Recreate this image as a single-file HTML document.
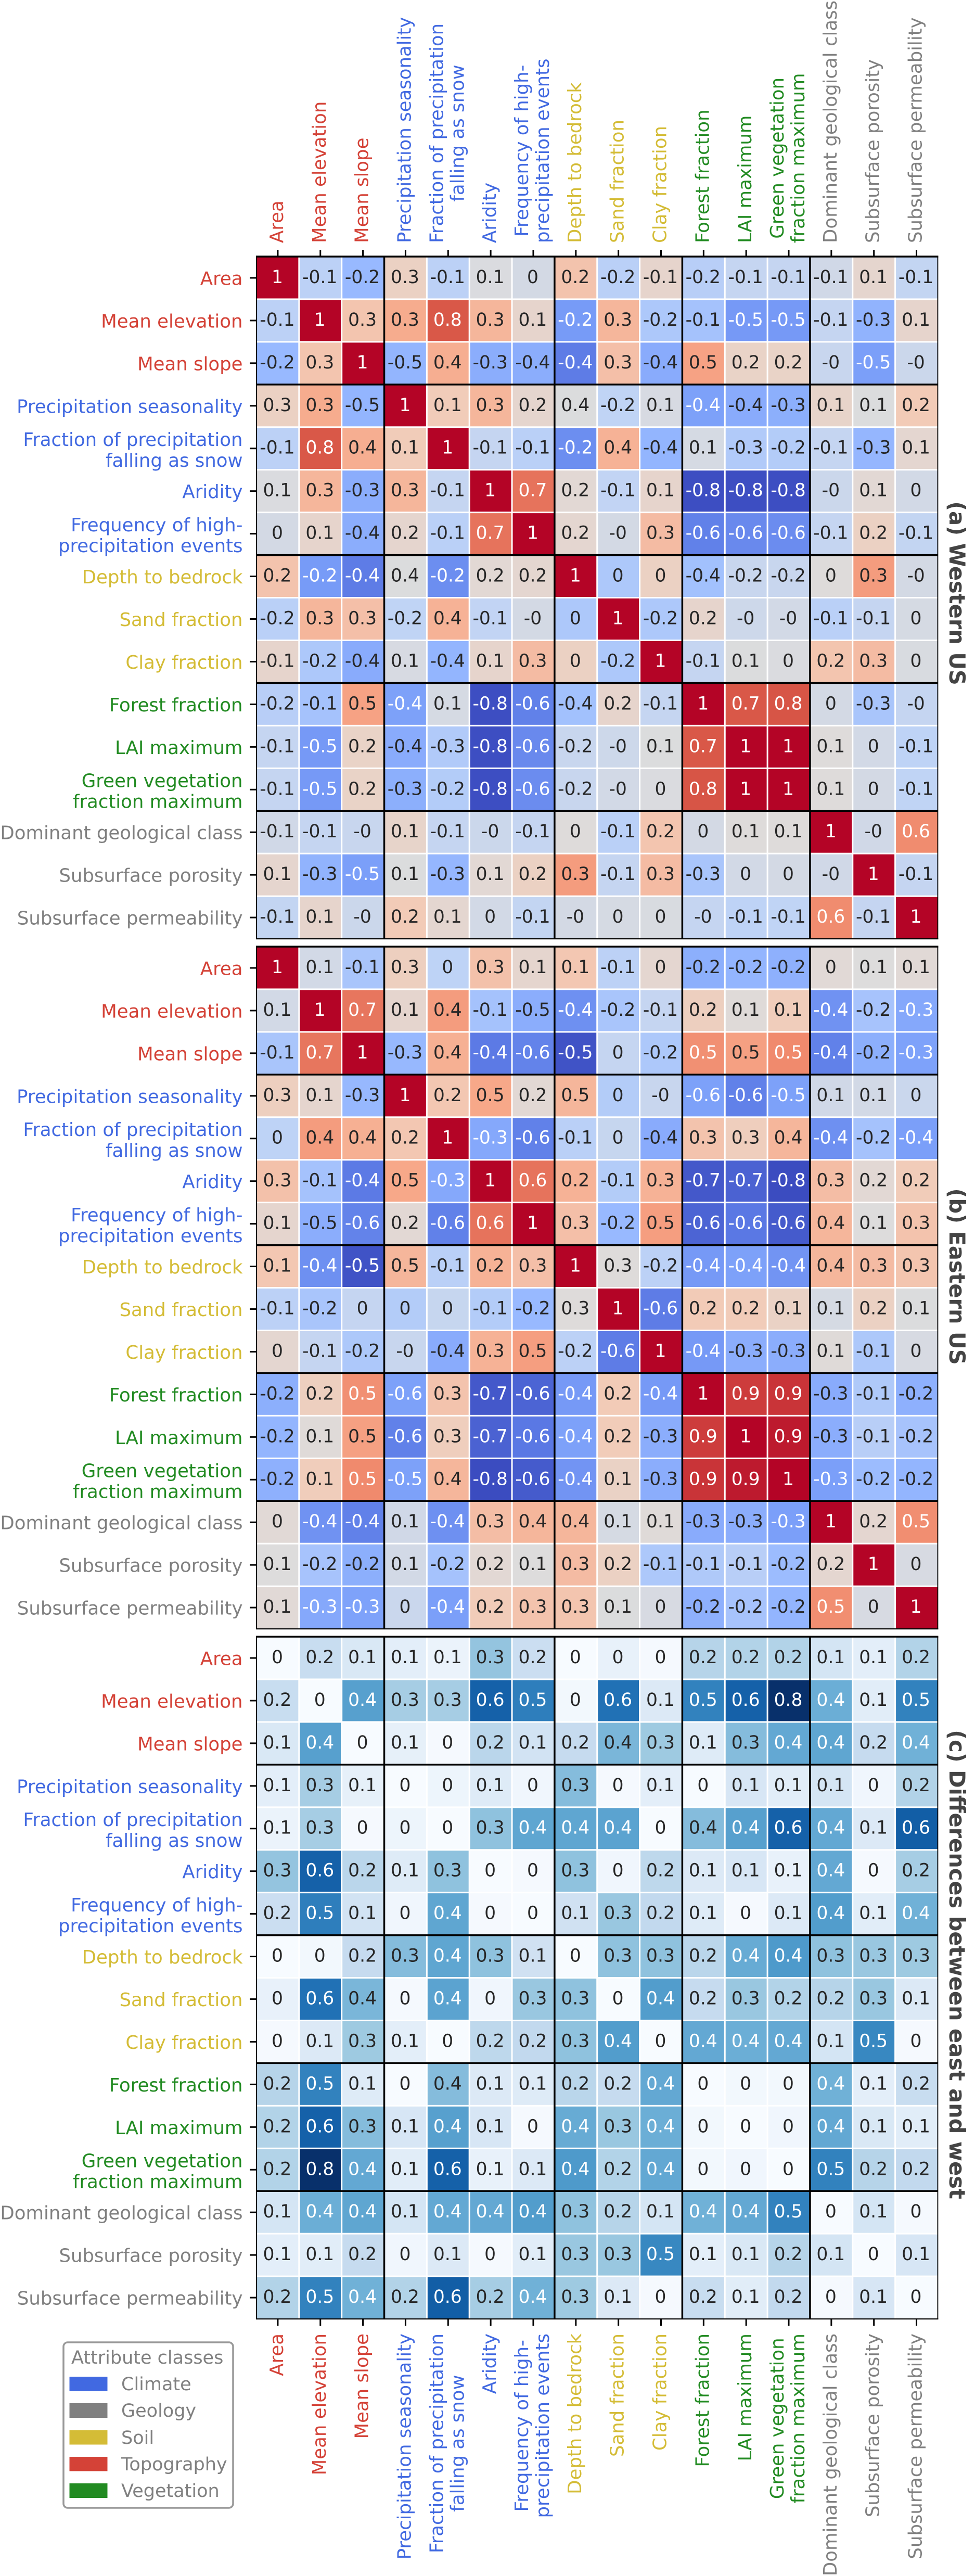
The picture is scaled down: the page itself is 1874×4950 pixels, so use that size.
<!DOCTYPE html>
<html lang="en">
<head>
<meta charset="utf-8">
<title>Attribute correlation heatmaps</title>
<style>
html,body{margin:0;padding:0;background:#fff;}
svg{display:block;font-family:"DejaVu Sans","Liberation Sans",sans-serif;}
</style>
</head>
<body>
<svg id="figure" xmlns="http://www.w3.org/2000/svg" width="1874" height="4950" viewBox="0 0 1874 4950">
  <rect x="0" y="0" width="1874" height="4950" fill="#ffffff"/>
  <g id="panels"></g>
  <g id="axis-top"></g>
  <g id="axis-bottom"></g>
  <text transform="translate(1825,1140) rotate(90)" text-anchor="middle" font-size="41.5" font-weight="bold" fill="#444444">(a) Western US</text>
  <text transform="translate(1825,2453) rotate(90)" text-anchor="middle" font-size="41.5" font-weight="bold" fill="#444444">(b) Eastern US</text>
  <text transform="translate(1825,3775) rotate(90)" text-anchor="middle" font-size="41.5" font-weight="bold" fill="#444444">(c) Differences between east and west</text>
  <g>
    <rect x="122" y="4501" width="326" height="318" rx="8" ry="8" fill="#ffffff" stroke="#999999" stroke-width="3.5"/>
    <text x="137" y="4542" font-size="35" fill="#808080">Attribute classes</text>
    <rect x="133.5" y="4567" width="73" height="27.5" fill="#4169e1"/>
    <text x="233" y="4593" font-size="35" fill="#808080">Climate</text>
    <rect x="133.5" y="4618" width="73" height="28" fill="#808080"/>
    <text x="233" y="4644" font-size="35" fill="#808080">Geology</text>
    <rect x="133.5" y="4670" width="73" height="27.5" fill="#d4bc36"/>
    <text x="233" y="4696" font-size="35" fill="#808080">Soil</text>
    <rect x="133.5" y="4721" width="73" height="27.5" fill="#d44237"/>
    <text x="233" y="4747" font-size="35" fill="#808080">Topography</text>
    <rect x="133.5" y="4772" width="73" height="28" fill="#228b22"/>
    <text x="233" y="4798" font-size="35" fill="#808080">Vegetation</text>
  </g>
</svg>
<script>
const attributeNames = [
  "Area", "Mean elevation", "Mean slope",
  "Precipitation seasonality", "Fraction of precipitation\nfalling as snow", "Aridity", "Frequency of high-\nprecipitation events",
  "Depth to bedrock", "Sand fraction", "Clay fraction",
  "Forest fraction", "LAI maximum", "Green vegetation\nfraction maximum",
  "Dominant geological class", "Subsurface porosity", "Subsurface permeability"
];
const attributeClasses = [
  "topography", "topography", "topography",
  "climate", "climate", "climate", "climate",
  "soil", "soil", "soil",
  "vegetation", "vegetation", "vegetation",
  "geology", "geology", "geology"
];
const classColors = { topography: "#d44237", climate: "#4169e1", soil: "#d4bc36", vegetation: "#228b22", geology: "#808080" };
const groupBreaks = [3, 7, 10, 13];

/* Printed correlation values, western US */
const westernPrinted = [
  [1,-0.1,-0.2,0.3,-0.1,0.1,0,0.2,-0.2,-0.1,-0.2,-0.1,-0.1,-0.1,0.1,-0.1],
  [-0.1,1,0.3,0.3,0.8,0.3,0.1,-0.2,0.3,-0.2,-0.1,-0.5,-0.5,-0.1,-0.3,0.1],
  [-0.2,0.3,1,-0.5,0.4,-0.3,-0.4,-0.4,0.3,-0.4,0.5,0.2,0.2,-0,-0.5,-0],
  [0.3,0.3,-0.5,1,0.1,0.3,0.2,0.4,-0.2,0.1,-0.4,-0.4,-0.3,0.1,0.1,0.2],
  [-0.1,0.8,0.4,0.1,1,-0.1,-0.1,-0.2,0.4,-0.4,0.1,-0.3,-0.2,-0.1,-0.3,0.1],
  [0.1,0.3,-0.3,0.3,-0.1,1,0.7,0.2,-0.1,0.1,-0.8,-0.8,-0.8,-0,0.1,0],
  [0,0.1,-0.4,0.2,-0.1,0.7,1,0.2,-0,0.3,-0.6,-0.6,-0.6,-0.1,0.2,-0.1],
  [0.2,-0.2,-0.4,0.4,-0.2,0.2,0.2,1,0,0,-0.4,-0.2,-0.2,0,0.3,-0],
  [-0.2,0.3,0.3,-0.2,0.4,-0.1,-0,0,1,-0.2,0.2,-0,-0,-0.1,-0.1,0],
  [-0.1,-0.2,-0.4,0.1,-0.4,0.1,0.3,0,-0.2,1,-0.1,0.1,0,0.2,0.3,0],
  [-0.2,-0.1,0.5,-0.4,0.1,-0.8,-0.6,-0.4,0.2,-0.1,1,0.7,0.8,0,-0.3,-0],
  [-0.1,-0.5,0.2,-0.4,-0.3,-0.8,-0.6,-0.2,-0,0.1,0.7,1,1,0.1,0,-0.1],
  [-0.1,-0.5,0.2,-0.3,-0.2,-0.8,-0.6,-0.2,-0,0,0.8,1,1,0.1,0,-0.1],
  [-0.1,-0.1,-0,0.1,-0.1,-0,-0.1,0,-0.1,0.2,0,0.1,0.1,1,-0,0.6],
  [0.1,-0.3,-0.5,0.1,-0.3,0.1,0.2,0.3,-0.1,0.3,-0.3,0,0,-0,1,-0.1],
  [-0.1,0.1,-0,0.2,0.1,0,-0.1,-0,0,0,-0,-0.1,-0.1,0.6,-0.1,1]
];
/* Colour strength of each western US cell */
const westernShade = [
  [1,-.10,-.27,.22,-.10,.08,.04,.32,-.11,.18,-.12,-.05,-.05,.02,.17,-.06],
  [-.10,1,.31,.44,.80,.39,.18,-.46,.39,-.17,-.21,-.47,-.47,-.05,-.31,.18],
  [-.27,.31,1,-.30,.43,-.35,-.35,-.60,.34,-.36,.49,.20,.20,-.03,-.44,-.01],
  [.22,.44,-.30,1,.27,.39,.17,.09,-.08,.06,-.43,-.36,-.34,.19,.09,.28],
  [-.10,.80,.43,.27,1,-.05,-.11,-.52,.41,-.30,.05,-.15,-.14,-.05,-.29,.16],
  [.08,.39,-.35,.39,-.05,1,.70,.14,-.07,.18,-.79,-.79,-.79,-.01,.14,.03],
  [.04,.18,-.35,.17,-.11,.70,1,.16,.04,.36,-.58,-.54,-.53,-.05,.22,-.06],
  [.32,-.46,-.60,.09,-.52,.14,.16,1,-.17,.22,-.22,-.03,-.03,.11,.52,.04],
  [-.11,.39,.34,-.08,.41,-.07,.04,-.17,1,-.17,.18,.00,.03,-.11,-.05,.05],
  [.18,-.17,-.36,.06,-.30,.18,.36,.22,-.17,1,-.05,.09,.08,.31,.36,.07],
  [-.12,-.21,.49,-.43,.05,-.79,-.58,-.22,.18,-.05,1,.80,.81,.04,-.19,-.05],
  [-.05,-.47,.20,-.36,-.15,-.79,-.54,-.03,.00,.09,.80,1,1,.11,.03,-.09],
  [-.05,-.47,.20,-.34,-.14,-.79,-.53,-.03,.03,.08,.81,1,1,.11,.04,-.08],
  [.02,-.05,-.03,.19,-.05,-.01,-.05,.11,-.11,.31,.04,.11,.11,1,.02,.60],
  [.17,-.31,-.44,.09,-.29,.14,.22,.52,-.05,.36,-.19,.03,.04,.02,1,-.05],
  [-.06,.18,-.01,.28,.16,.03,-.06,.04,.05,.07,-.05,-.09,-.08,.60,-.05,1]
];

/* Printed correlation values, eastern US */
const easternPrinted = [
  [1,0.1,-0.1,0.3,0,0.3,0.1,0.1,-0.1,0,-0.2,-0.2,-0.2,0,0.1,0.1],
  [0.1,1,0.7,0.1,0.4,-0.1,-0.5,-0.4,-0.2,-0.1,0.2,0.1,0.1,-0.4,-0.2,-0.3],
  [-0.1,0.7,1,-0.3,0.4,-0.4,-0.6,-0.5,0,-0.2,0.5,0.5,0.5,-0.4,-0.2,-0.3],
  [0.3,0.1,-0.3,1,0.2,0.5,0.2,0.5,0,-0,-0.6,-0.6,-0.5,0.1,0.1,0],
  [0,0.4,0.4,0.2,1,-0.3,-0.6,-0.1,0,-0.4,0.3,0.3,0.4,-0.4,-0.2,-0.4],
  [0.3,-0.1,-0.4,0.5,-0.3,1,0.6,0.2,-0.1,0.3,-0.7,-0.7,-0.8,0.3,0.2,0.2],
  [0.1,-0.5,-0.6,0.2,-0.6,0.6,1,0.3,-0.2,0.5,-0.6,-0.6,-0.6,0.4,0.1,0.3],
  [0.1,-0.4,-0.5,0.5,-0.1,0.2,0.3,1,0.3,-0.2,-0.4,-0.4,-0.4,0.4,0.3,0.3],
  [-0.1,-0.2,0,0,0,-0.1,-0.2,0.3,1,-0.6,0.2,0.2,0.1,0.1,0.2,0.1],
  [0,-0.1,-0.2,-0,-0.4,0.3,0.5,-0.2,-0.6,1,-0.4,-0.3,-0.3,0.1,-0.1,0],
  [-0.2,0.2,0.5,-0.6,0.3,-0.7,-0.6,-0.4,0.2,-0.4,1,0.9,0.9,-0.3,-0.1,-0.2],
  [-0.2,0.1,0.5,-0.6,0.3,-0.7,-0.6,-0.4,0.2,-0.3,0.9,1,0.9,-0.3,-0.1,-0.2],
  [-0.2,0.1,0.5,-0.5,0.4,-0.8,-0.6,-0.4,0.1,-0.3,0.9,0.9,1,-0.3,-0.2,-0.2],
  [0,-0.4,-0.4,0.1,-0.4,0.3,0.4,0.4,0.1,0.1,-0.3,-0.3,-0.3,1,0.2,0.5],
  [0.1,-0.2,-0.2,0.1,-0.2,0.2,0.1,0.3,0.2,-0.1,-0.1,-0.1,-0.2,0.2,1,0],
  [0.1,-0.3,-0.3,0,-0.4,0.2,0.3,0.3,0.1,0,-0.2,-0.2,-0.2,0.5,0,1]
];
/* Colour strength of each eastern US cell */
const easternShade = [
  [1,.03,-.19,.24,-.09,.33,.17,.30,-.10,.16,-.34,-.30,-.33,.13,.10,.13],
  [.03,1,.69,.17,.52,-.21,-.35,-.51,-.19,-.05,.24,.12,.26,-.50,-.20,-.38],
  [-.19,.69,1,-.28,.42,-.61,-.57,-.77,-.05,-.17,.58,.50,.61,-.58,-.34,-.42],
  [.24,.17,-.28,1,.30,.46,.14,.39,-.14,-.03,-.43,-.58,-.43,.02,.03,-.02],
  [-.09,.52,.42,.30,1,-.38,-.58,-.11,-.04,-.36,.32,.25,.39,-.51,-.21,-.44],
  [.33,-.21,-.61,.46,-.38,1,.70,.41,-.14,.41,-.75,-.71,-.80,.35,.14,.27],
  [.17,-.35,-.57,.14,-.58,.70,1,.34,-.27,.51,-.70,-.62,-.74,.39,.10,.32],
  [.30,-.51,-.77,.39,-.11,.41,.34,1,.11,-.10,-.47,-.43,-.49,.39,.36,.31],
  [-.10,-.19,-.05,-.14,-.04,-.14,-.27,.11,1,-.60,.28,.27,.21,.05,.22,.09],
  [.16,-.05,-.17,-.03,-.36,.41,.51,-.10,-.60,1,-.47,-.35,-.35,.12,-.17,.06],
  [-.34,.24,.58,-.43,.32,-.75,-.70,-.47,.28,-.47,1,.87,.89,-.36,-.16,-.33],
  [-.30,.12,.50,-.58,.25,-.71,-.62,-.43,.27,-.35,.87,1,.95,-.35,-.12,-.20],
  [-.33,.26,.61,-.43,.39,-.80,-.74,-.49,.21,-.35,.89,.95,1,-.44,-.25,-.30],
  [.13,-.50,-.58,.02,-.51,.35,.39,.39,.05,.12,-.36,-.35,-.44,1,.16,.59],
  [.10,-.20,-.34,.03,-.21,.14,.10,.36,.22,-.17,-.16,-.12,-.25,.16,1,.06],
  [.13,-.38,-.42,-.02,-.44,.27,.32,.31,.09,.06,-.33,-.20,-.30,.59,.06,1]
];

/* Printed absolute differences between east and west */
const differencePrinted = [
  [0,0.2,0.1,0.1,0.1,0.3,0.2,0,0,0,0.2,0.2,0.2,0.1,0.1,0.2],
  [0.2,0,0.4,0.3,0.3,0.6,0.5,0,0.6,0.1,0.5,0.6,0.8,0.4,0.1,0.5],
  [0.1,0.4,0,0.1,0,0.2,0.1,0.2,0.4,0.3,0.1,0.3,0.4,0.4,0.2,0.4],
  [0.1,0.3,0.1,0,0,0.1,0,0.3,0,0.1,0,0.1,0.1,0.1,0,0.2],
  [0.1,0.3,0,0,0,0.3,0.4,0.4,0.4,0,0.4,0.4,0.6,0.4,0.1,0.6],
  [0.3,0.6,0.2,0.1,0.3,0,0,0.3,0,0.2,0.1,0.1,0.1,0.4,0,0.2],
  [0.2,0.5,0.1,0,0.4,0,0,0.1,0.3,0.2,0.1,0,0.1,0.4,0.1,0.4],
  [0,0,0.2,0.3,0.4,0.3,0.1,0,0.3,0.3,0.2,0.4,0.4,0.3,0.3,0.3],
  [0,0.6,0.4,0,0.4,0,0.3,0.3,0,0.4,0.2,0.3,0.2,0.2,0.3,0.1],
  [0,0.1,0.3,0.1,0,0.2,0.2,0.3,0.4,0,0.4,0.4,0.4,0.1,0.5,0],
  [0.2,0.5,0.1,0,0.4,0.1,0.1,0.2,0.2,0.4,0,0,0,0.4,0.1,0.2],
  [0.2,0.6,0.3,0.1,0.4,0.1,0,0.4,0.3,0.4,0,0,0,0.4,0.1,0.1],
  [0.2,0.8,0.4,0.1,0.6,0.1,0.1,0.4,0.2,0.4,0,0,0,0.5,0.2,0.2],
  [0.1,0.4,0.4,0.1,0.4,0.4,0.4,0.3,0.2,0.1,0.4,0.4,0.5,0,0.1,0],
  [0.1,0.1,0.2,0,0.1,0,0.1,0.3,0.3,0.5,0.1,0.1,0.2,0.1,0,0.1],
  [0.2,0.5,0.4,0.2,0.6,0.2,0.4,0.3,0.1,0,0.2,0.1,0.2,0,0.1,0]
];
/* Colour strength of each difference cell */
const differenceShade = [
  [.00,.19,.12,.08,.05,.32,.18,.00,.06,.01,.24,.25,.25,.14,.08,.25],
  [.19,.00,.45,.28,.28,.65,.56,.02,.60,.11,.55,.65,.80,.40,.09,.55],
  [.12,.45,.00,.07,.01,.23,.15,.20,.37,.30,.10,.35,.42,.43,.20,.39],
  [.08,.28,.07,.00,.04,.10,.03,.35,.01,.08,.00,.13,.09,.14,.03,.25],
  [.05,.28,.01,.04,.00,.33,.43,.43,.44,.00,.35,.45,.65,.42,.11,.66],
  [.32,.65,.23,.10,.33,.00,.01,.33,.03,.22,.11,.13,.06,.42,.01,.28],
  [.18,.56,.15,.03,.43,.01,.00,.16,.31,.21,.10,.01,.11,.46,.09,.39],
  [.00,.02,.20,.35,.43,.33,.16,.00,.33,.33,.23,.41,.47,.33,.31,.30],
  [.06,.60,.37,.01,.44,.03,.31,.33,.00,.46,.20,.31,.25,.24,.31,.11],
  [.01,.11,.30,.08,.00,.22,.21,.33,.46,.00,.42,.40,.42,.14,.53,.01],
  [.24,.55,.10,.00,.35,.11,.10,.23,.20,.42,.00,.02,.02,.39,.08,.19],
  [.25,.65,.35,.13,.45,.13,.01,.41,.31,.40,.02,.00,.03,.42,.12,.09],
  [.25,.80,.42,.09,.65,.06,.11,.47,.25,.42,.02,.03,.00,.55,.24,.21],
  [.14,.40,.43,.14,.42,.42,.46,.33,.24,.14,.39,.42,.55,.00,.14,.01],
  [.08,.09,.20,.03,.11,.01,.09,.31,.31,.53,.08,.12,.24,.14,.00,.13],
  [.25,.55,.39,.25,.66,.28,.39,.30,.11,.01,.19,.09,.21,.01,.13,.00]
];

const NS = "http://www.w3.org/2000/svg";
const plotLeft = 493, colWidth = 81.84, rowHeight = 81.94, cellGap = 3;
const plotRight = plotLeft + 16 * colWidth;
const labelFontSize = "35.5", valueFontSize = "34.5";
const panelSpecs = [
  { top: 493, printed: westernPrinted, shade: westernShade, ramp: coolwarmColor },
  { top: 1819, printed: easternPrinted, shade: easternShade, ramp: coolwarmColor },
  { top: 3145, printed: differencePrinted, shade: differenceShade, ramp: bluesColor }
];

function xScale(i) { return plotLeft + i * colWidth; }
function yScale(i, top) { return top + i * rowHeight; }

function lerpRamp(stops, t) {
  const c = Math.max(0, Math.min(1, t)) * (stops.length - 1);
  const i = Math.min(stops.length - 2, Math.floor(c));
  const f = c - i;
  return [0, 1, 2].map(k => Math.round(stops[i][k] + (stops[i + 1][k] - stops[i][k]) * f));
}
function coolwarmColor(v) {
  return lerpRamp([[59,76,192],[90,120,228],[123,159,249],[154,187,255],[192,212,245],[221,220,220],[242,203,183],[247,168,137],[238,132,104],[214,82,68],[180,4,38]], (v + 0.8) / 1.8);
}
function bluesColor(v) {
  return lerpRamp([[247,251,255],[222,235,247],[198,219,239],[158,202,225],[107,174,214],[66,146,198],[33,113,181],[8,81,156],[8,48,107]], v / 0.8);
}
function luminance(rgb) {
  const lin = rgb.map(x => { const s = x / 255; return s <= 0.03928 ? s / 12.92 : Math.pow((s + 0.055) / 1.055, 2.4); });
  return 0.2126 * lin[0] + 0.7152 * lin[1] + 0.0722 * lin[2];
}
function formatValue(v) { return Object.is(v, -0) ? "-0" : String(v); }

function makeLine(parent, x1, y1, x2, y2, width) {
  const line = document.createElementNS(NS, "line");
  line.setAttribute("x1", x1);
  line.setAttribute("y1", y1);
  line.setAttribute("x2", x2);
  line.setAttribute("y2", y2);
  line.setAttribute("stroke", "#000000");
  line.setAttribute("stroke-width", width);
  parent.appendChild(line);
  return line;
}

const panelsRoot = document.getElementById("panels");
panelSpecs.forEach(function (spec) {
  const g = document.createElementNS(NS, "g");
  
  
  panelsRoot.appendChild(g);
  const bottom = yScale(16, spec.top);

  spec.shade.forEach(function (row, r) {
    row.forEach(function (value, c) {
      const rgb = spec.ramp(value);
      const rect = document.createElementNS(NS, "rect");
      rect.setAttribute("x", xScale(c) + (c === 0 ? 0 : cellGap / 2));
      rect.setAttribute("y", yScale(r, spec.top) + (r === 0 ? 0 : cellGap / 2));
      rect.setAttribute("width", colWidth - (c === 0 || c === 15 ? cellGap / 2 : cellGap));
      rect.setAttribute("height", rowHeight - (r === 0 || r === 15 ? cellGap / 2 : cellGap));
      rect.setAttribute("fill", "rgb(" + rgb.join(",") + ")");
      
      
      g.appendChild(rect);

      const label = document.createElementNS(NS, "text");
      label.setAttribute("x", xScale(c) + colWidth / 2 - 1);
      label.setAttribute("y", yScale(r, spec.top) + rowHeight / 2 + 10);
      label.setAttribute("text-anchor", "middle");
      label.setAttribute("font-size", valueFontSize);
      label.setAttribute("fill", luminance(rgb) > 0.408 ? "#262626" : "#ffffff");
      label.textContent = formatValue(spec.printed[r][c]);
      
      
      g.appendChild(label);
    });
  });

  groupBreaks.forEach(function (b) {
    const v = makeLine(g, xScale(b), spec.top, xScale(b), bottom, 3.5);
    
    
    const h = makeLine(g, plotLeft, yScale(b, spec.top), plotRight, yScale(b, spec.top), 3.5);
    
    
  });
  const frameTop = makeLine(g, plotLeft - 1, spec.top, plotRight + 1, spec.top, 3.5);
  
  
  const frameBottom = makeLine(g, plotLeft - 1, bottom, plotRight + 1, bottom, 2.2);
  
  
  const frameLeft = makeLine(g, plotLeft, spec.top, plotLeft, bottom, 2.2);
  
  
  const frameRight = makeLine(g, plotRight, spec.top, plotRight, bottom, 1.8);
  
  

  attributeNames.forEach(function (name, r) {
    const cy = yScale(r, spec.top) + rowHeight / 2;
    const tick = makeLine(g, plotLeft - 13, cy, plotLeft, cy, 3);
    
    
    const lines = name.split("\n");
    lines.forEach(function (part, k) {
      const t = document.createElementNS(NS, "text");
      t.setAttribute("x", 466.5);
      t.setAttribute("y", cy + (lines.length === 2 ? -4.6 + k * 40 : 13.5));
      t.setAttribute("text-anchor", "end");
      t.setAttribute("font-size", labelFontSize);
      t.setAttribute("fill", classColors[attributeClasses[r]]);
      t.textContent = part;
      
      
      g.appendChild(t);
    });
  });
});

function drawXAxis(root, tickStart, tickEnd, anchorY, direction) {
  attributeNames.forEach(function (name, c) {
    const cx = xScale(c) + colWidth / 2;
    const tick = makeLine(root, cx, tickStart, cx, tickEnd, 3);
    
    
    const lines = name.split("\n");
    const nodes = lines.map(function (part, k) {
      const baseX = cx + (lines.length === 2 ? -10 + k * 40 : 10);
      const t = document.createElementNS(NS, "text");
      t.setAttribute("text-anchor", "middle");
      t.setAttribute("font-size", labelFontSize);
      t.setAttribute("fill", classColors[attributeClasses[c]]);
      t.textContent = part;
      
      
      root.appendChild(t);
      return { node: t, baseX: baseX };
    });
    const longest = Math.max.apply(null, nodes.map(function (n) { return n.node.getComputedTextLength(); }));
    const centerY = anchorY + direction * longest / 2;
    nodes.forEach(function (n) {
      n.node.setAttribute("transform", "translate(" + n.baseX + "," + centerY + ") rotate(-90)");
    });
  });
}
drawXAxis(document.getElementById("axis-top"), 480, 493, 467, -1);
drawXAxis(document.getElementById("axis-bottom"), yScale(16, 3145), yScale(16, 3145) + 13, 4484, 1);
</script>
</body>
</html>
